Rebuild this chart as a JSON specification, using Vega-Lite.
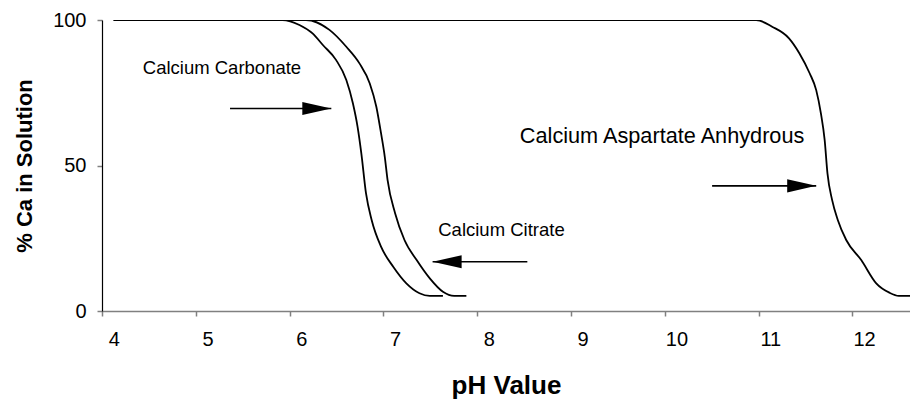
{
  "$schema": "https://vega.github.io/schema/vega-lite/v6.json",
  "width": 808,
  "height": 291,
  "autosize": "none",
  "padding": {"left": 102, "top": 20, "right": 0, "bottom": 89},
  "background": "white",
  "config": {
    "font": "Liberation Sans",
    "view": {"stroke": null},
    "axis": {"grid": false, "labelColor": "#000", "titleColor": "#000", "labelFont": "Liberation Sans", "titleFont": "Liberation Sans"}
  },
  "datasets": {
    "curves": [
      {"series": "Calcium Carbonate", "pH": 4.0, "pct": 100},
      {"series": "Calcium Carbonate", "pH": 5.8, "pct": 100},
      {"series": "Calcium Carbonate", "pH": 5.98, "pct": 98.3},
      {"series": "Calcium Carbonate", "pH": 6.12, "pct": 95.4},
      {"series": "Calcium Carbonate", "pH": 6.23, "pct": 91.4},
      {"series": "Calcium Carbonate", "pH": 6.37, "pct": 86.3},
      {"series": "Calcium Carbonate", "pH": 6.48, "pct": 79.4},
      {"series": "Calcium Carbonate", "pH": 6.55, "pct": 71.4},
      {"series": "Calcium Carbonate", "pH": 6.6, "pct": 63.3},
      {"series": "Calcium Carbonate", "pH": 6.64, "pct": 54.2},
      {"series": "Calcium Carbonate", "pH": 6.69, "pct": 40.4},
      {"series": "Calcium Carbonate", "pH": 6.75, "pct": 31.3},
      {"series": "Calcium Carbonate", "pH": 6.85, "pct": 22.1},
      {"series": "Calcium Carbonate", "pH": 6.98, "pct": 15.2},
      {"series": "Calcium Carbonate", "pH": 7.12, "pct": 9.5},
      {"series": "Calcium Carbonate", "pH": 7.26, "pct": 6.1},
      {"series": "Calcium Carbonate", "pH": 7.37, "pct": 5.2},
      {"series": "Calcium Carbonate", "pH": 7.51, "pct": 5.2},
      {"series": "Calcium Citrate", "pH": 4.0, "pct": 100},
      {"series": "Calcium Citrate", "pH": 6.05, "pct": 100},
      {"series": "Calcium Citrate", "pH": 6.3, "pct": 96.6},
      {"series": "Calcium Citrate", "pH": 6.48, "pct": 90.8},
      {"series": "Calcium Citrate", "pH": 6.62, "pct": 85.1},
      {"series": "Calcium Citrate", "pH": 6.73, "pct": 78.2},
      {"series": "Calcium Citrate", "pH": 6.8, "pct": 70.2},
      {"series": "Calcium Citrate", "pH": 6.85, "pct": 61.1},
      {"series": "Calcium Citrate", "pH": 6.89, "pct": 53.0},
      {"series": "Calcium Citrate", "pH": 6.92, "pct": 45.0},
      {"series": "Calcium Citrate", "pH": 7.0, "pct": 33.6},
      {"series": "Calcium Citrate", "pH": 7.1, "pct": 24.4},
      {"series": "Calcium Citrate", "pH": 7.23, "pct": 17.5},
      {"series": "Calcium Citrate", "pH": 7.37, "pct": 11.2},
      {"series": "Calcium Citrate", "pH": 7.51, "pct": 6.6},
      {"series": "Calcium Citrate", "pH": 7.63, "pct": 5.2},
      {"series": "Calcium Citrate", "pH": 7.76, "pct": 5.2},
      {"series": "Calcium Aspartate Anhydrous", "pH": 4.0, "pct": 100},
      {"series": "Calcium Aspartate Anhydrous", "pH": 10.85, "pct": 100},
      {"series": "Calcium Aspartate Anhydrous", "pH": 11.02, "pct": 97.7},
      {"series": "Calcium Aspartate Anhydrous", "pH": 11.2, "pct": 93.7},
      {"series": "Calcium Aspartate Anhydrous", "pH": 11.31, "pct": 88.6},
      {"series": "Calcium Aspartate Anhydrous", "pH": 11.42, "pct": 81.7},
      {"series": "Calcium Aspartate Anhydrous", "pH": 11.49, "pct": 75.9},
      {"series": "Calcium Aspartate Anhydrous", "pH": 11.54, "pct": 67.9},
      {"series": "Calcium Aspartate Anhydrous", "pH": 11.58, "pct": 58.8},
      {"series": "Calcium Aspartate Anhydrous", "pH": 11.61, "pct": 47.3},
      {"series": "Calcium Aspartate Anhydrous", "pH": 11.66, "pct": 38.1},
      {"series": "Calcium Aspartate Anhydrous", "pH": 11.72, "pct": 31.3},
      {"series": "Calcium Aspartate Anhydrous", "pH": 11.81, "pct": 24.4},
      {"series": "Calcium Aspartate Anhydrous", "pH": 11.97, "pct": 17.5},
      {"series": "Calcium Aspartate Anhydrous", "pH": 12.13, "pct": 9.5},
      {"series": "Calcium Aspartate Anhydrous", "pH": 12.27, "pct": 6.3},
      {"series": "Calcium Aspartate Anhydrous", "pH": 12.37, "pct": 5.2},
      {"series": "Calcium Aspartate Anhydrous", "pH": 12.5, "pct": 5.2}
    ],
    "arrows": [
      {"label": "Calcium Carbonate", "from": 5.24, "tip": 6.32, "pct": 69.6, "dir": "right"},
      {"label": "Calcium Aspartate Anhydrous", "from": 10.38, "tip": 11.49, "pct": 43.0, "dir": "right"},
      {"label": "Calcium Citrate", "from": 8.41, "tip": 7.4, "pct": 16.9, "dir": "left"}
    ],
    "labels": [
      {"text": "Calcium Carbonate", "pH": 4.31, "pct": 81.4, "kind": "small"},
      {"text": "Calcium Citrate", "pH": 7.46, "pct": 25.8, "kind": "small"},
      {"text": "Calcium Aspartate Anhydrous", "pH": 8.33, "pct": 57.6, "kind": "large"}
    ]
  },
  "layer": [
    {
      "data": {"name": "curves"},
      "mark": {"type": "line", "color": "#000", "strokeWidth": 1.8, "clip": true, "interpolate": "monotone"},
      "encoding": {
        "x": {
          "field": "pH", "type": "quantitative",
          "scale": {"domain": [3.875, 12.49], "nice": false, "zero": false},
          "axis": {
            "values": [4, 5, 6, 7, 8, 9, 10, 11, 12],
            "format": "d",
            "tickOffset": -11.75,
            "labelOffset": 11.75,
            "domainColor": "#808080",
            "domainWidth": 1.5,
            "tickColor": "#808080",
            "tickWidth": 1.5,
            "tickSize": 5,
            "labelFontSize": 20,
            "labelPadding": 13,
            "labelFlush": false,
            "title": "pH Value",
            "titleFontSize": 26,
            "titleFontWeight": "bold",
            "titlePadding": 23
          }
        },
        "y": {
          "field": "pct", "type": "quantitative",
          "scale": {"domain": [0, 100], "nice": false},
          "axis": {
            "values": [0, 50, 100],
            "domainColor": "#000",
            "domainWidth": 1.2,
            "tickColor": "#808080",
            "tickWidth": 1.5,
            "tickSize": 5,
            "labelFontSize": 20,
            "labelPadding": 11,
            "title": "% Ca in Solution",
            "titleFontSize": 22,
            "titleFontWeight": "bold",
            "titlePadding": 16
          }
        },
        "detail": {"field": "series"}
      }
    },
    {
      "data": {"name": "arrows"},
      "mark": {"type": "rule", "color": "#000", "strokeWidth": 1.6},
      "encoding": {
        "x": {"field": "from", "type": "quantitative"},
        "x2": {"field": "tip"},
        "y": {"field": "pct", "type": "quantitative"}
      }
    },
    {
      "data": {"name": "arrows"},
      "mark": {"type": "point", "filled": true, "color": "#000", "opacity": 1, "size": 841, "strokeWidth": 0},
      "encoding": {
        "x": {"field": "tip", "type": "quantitative"},
        "y": {"field": "pct", "type": "quantitative"},
        "shape": {
          "field": "dir", "type": "nominal",
          "scale": {"domain": ["right", "left"], "range": ["M -2 -0.45 L 0 0 L -2 0.45 Z", "M 2 -0.45 L 0 0 L 2 0.45 Z"]},
          "legend": null
        }
      }
    },
    {
      "data": {"name": "labels"},
      "transform": [{"filter": "datum.kind === 'small'"}],
      "mark": {"type": "text", "align": "left", "baseline": "alphabetic", "fontSize": 18.5, "color": "#000", "font": "Liberation Sans"},
      "encoding": {
        "x": {"field": "pH", "type": "quantitative"},
        "y": {"field": "pct", "type": "quantitative"},
        "text": {"field": "text"}
      }
    },
    {
      "data": {"name": "labels"},
      "transform": [{"filter": "datum.kind === 'large'"}],
      "mark": {"type": "text", "align": "left", "baseline": "alphabetic", "fontSize": 21.7, "color": "#000", "font": "Liberation Sans"},
      "encoding": {
        "x": {"field": "pH", "type": "quantitative"},
        "y": {"field": "pct", "type": "quantitative"},
        "text": {"field": "text"}
      }
    }
  ]
}
